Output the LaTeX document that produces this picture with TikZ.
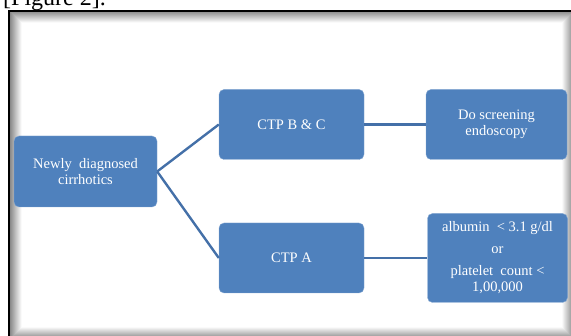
\documentclass[tikz,border=0pt]{standalone}
\usepackage{fontspec}
\setmainfont{Liberation Serif}
\usetikzlibrary{positioning}
\definecolor{ctpblue}{HTML}{4F81BD}
\definecolor{linkblue}{HTML}{4470A8}

\begin{document}
\begin{tikzpicture}[x=1pt, y=1pt, node distance=206pt,
    ctpbox/.style={rectangle, rounded corners=5pt, draw=ctpblue!70!white, fill=ctpblue, text=white, minimum width=145pt, minimum height=70pt, text centered, align=center, font=\fontsize{14.5}{16}\selectfont},
    link/.style={draw=linkblue, line width=2.4pt}]

\clip (0,0) rectangle (571,336);
% caption line, cut by the page edge
\node[anchor=base west, inner sep=0pt, font=\fontsize{24}{28}\selectfont] (caption) at (3,330) {[Figure 2].};

% frame with inner shadow
\foreach \i [evaluate=\i as \c using int(50-4*\i)] in {1,...,12}
  \draw[black!\c, line width=1pt] (9+\i,-4+\i) rectangle (574-\i,325-\i);
\draw[black, line width=1.5pt] (9,-4) rectangle (574,325);

% Boxes
\node[ctpbox, minimum width=143pt, minimum height=71pt] (newly) at (85.5,164.5) {Newly\ \ diagnosed\\cirrhotics};
\node[ctpbox, right of=newly, yshift=47pt] (ctpbc) {CTP B \& C};
\node[ctpbox, right of=ctpbc, node distance=205pt, minimum width=141pt] (screen) {Do screening\\endoscopy};
\node[ctpbox, below of=ctpbc, node distance=133.5pt] (ctpa) {CTP A};
\node[ctpbox, right of=ctpa, minimum width=140pt, minimum height=89pt] (albumin) {albumin\ \ < 3.1 g/dl\\[6pt] or\\[6pt] platelet\ \ count <\\1,00,000};

% Connections
\draw[link] (newly.east) -- (ctpbc.west);
\draw[link] (newly.east) -- (ctpa.west);
\draw[link] (ctpbc) -- (screen);
\draw[link] (ctpa) -- (albumin);

\end{tikzpicture}
\end{document}
